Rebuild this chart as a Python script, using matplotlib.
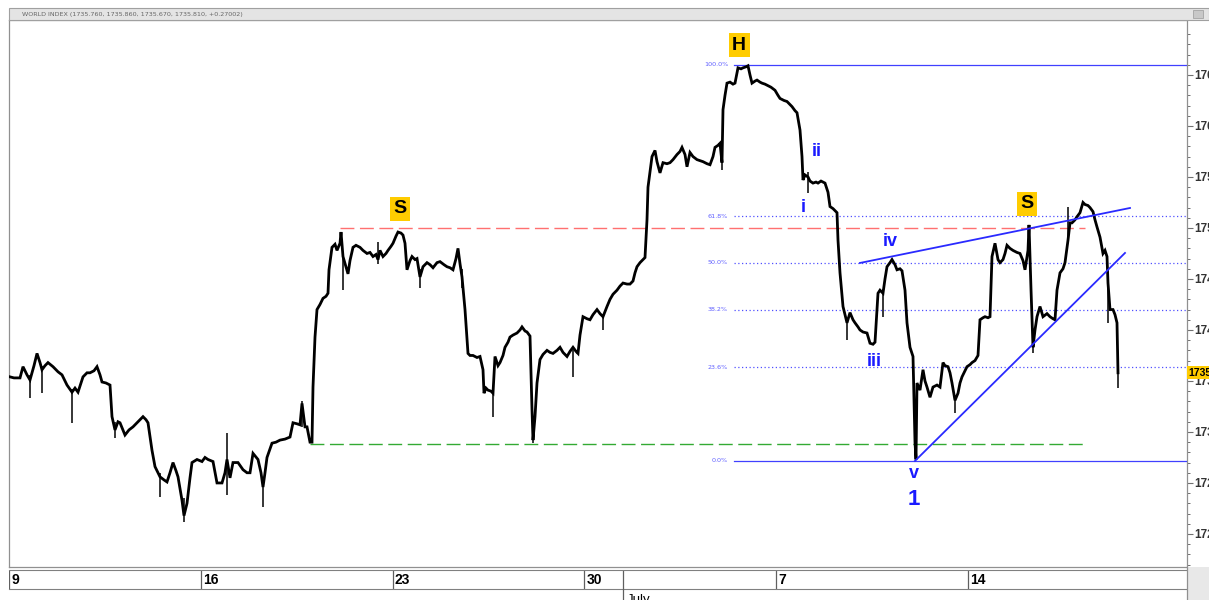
import matplotlib
matplotlib.use('Agg')
import matplotlib.pyplot as plt
import numpy as np
from matplotlib.patches import Rectangle
import matplotlib.transforms as mtransforms

# ---------------- data (bar index = 37.5-minute intraday bars) ----------------
bars_a = [1,5,11,14,18,21,25,28,31,33,36,39,44,49,53,58,63,66,69,74,78,81,85,88,91,93,97,101,103,106,
          109,111,116,120,124,129,134,137,139,143,146,149,151,155,158,161,164,167,169,173,175,178,181,183,188,193,196,199,204,208,
          213,216,218,221,224,229,234,238,241,244,249,252,254,256,258,263,267,271,276,281,284,288,291,293,296,298,301,303]
close_a = [1735.4,1735.3,1735.3,1736.4,1735.6,1735.1,1736.5,1737.7,1736.8,1736.1,1736.5,1736.8,1736.4,1735.9,1735.6,1734.6,1733.9,1734.3,1733.9,1735.4,
           1735.8,1735.8,1736.0,1736.4,1735.6,1734.9,1734.8,1734.6,1731.5,1730.2,1731.0,1730.9,1729.7,1730.2,1730.5,1731.0,1731.5,1731.2,1730.9,1728.2,
           1726.6,1726.0,1725.6,1725.3,1725.1,1726.0,1727.0,1726.2,1725.6,1723.3,1721.8,1723.0,1725.5,1727.0,1727.3,1727.1,1727.5,1727.3,1727.1,1725.0,
           1725.0,1726.0,1727.3,1725.5,1727.0,1727.0,1726.3,1726.0,1726.0,1727.9,1727.3,1726.0,1724.6,1726.0,1727.5,1728.9,1729.0,1729.2,1729.3,1729.5,
           1730.9,1730.8,1730.7,1732.8,1730.5,1730.5,1729.0,1729.0]

bars_b = [304,306,308,311,314,317,319,320,323,326,328,331,332,334,337,339,341,344,347,351,354,358,361,364,367,369,371,374,377,379,
          382,384,387,389,392,394,396,398,401,403,406,408,411,414,418,421,424,428,431,435,438,441,444,447,449,451,453,456,459,461,
          464,468,471,474,475,477,479,482,484,486,489,491,494,496,499,501,504,508,511,513,516,518,521,523,524,526,528,531,534,538,
          541,544,548,551,554,558,561,564,567,569,571,574,578,581,584,588,591,594,598]
close_b = [1734.4,1739.3,1742.0,1742.5,1743.1,1743.3,1743.6,1745.9,1748.1,1748.4,1747.8,1748.5,1749.6,1747.2,1746.2,1745.5,1746.8,1748.1,1748.3,1748.1,
           1747.8,1747.5,1747.6,1747.2,1747.4,1746.9,1747.8,1747.2,1747.5,1747.8,1748.2,1748.5,1749.2,1749.6,1749.5,1749.3,1748.5,1745.9,1746.8,1747.2,
           1746.9,1747.0,1745.2,1746.2,1746.6,1746.4,1746.1,1746.6,1746.7,1746.4,1746.2,1746.1,1745.9,1747.0,1748.0,1746.5,1745.2,1742.0,1737.7,1737.5,
           1737.5,1737.3,1737.4,1736.1,1733.8,1734.3,1734.1,1734.0,1733.8,1737.4,1736.5,1736.8,1737.5,1738.3,1738.8,1739.3,1739.5,1739.7,1740.0,1740.3,
           1739.9,1739.8,1739.4,1732.2,1729.2,1731.5,1734.8,1737.1,1737.6,1738.0,1737.8,1737.7,1738.0,1738.3,1737.8,1737.4,1737.9,1738.3,1737.9,1737.7,
           1739.5,1741.3,1741.1,1741.0,1741.5,1742.0,1741.6,1741.3,1742.3]

bars_c = [601,604,608,611,614,618,621,624,626,628,631,634,636,638,639,641,643,646,648,651,654,658,661,664,668,671,673,676,678,681,
          684,688,691,694,698,701,704,706,709,711,713,714,716,718,721,724,726,729,732,734,737,739,741,743,746,748,751,753,756,758,
          762,766,769,771,775,778,781,783,786,788,791,793,794,796,799,801,804,807,809,812,816,819,821,824,828,829,831,834,836,838,
          841,844,846,849,851,854,858,861,864,866,869,871,874,876,878,881,883,886,888,891,893,896,898,901,904]
close_c = [1743.0,1743.5,1743.9,1744.3,1744.6,1744.5,1744.5,1744.8,1745.6,1746.2,1746.6,1746.9,1747.1,1750.8,1754.0,1755.5,1757.0,1757.6,1756.5,1755.4,
           1756.4,1756.3,1756.4,1756.7,1757.2,1757.5,1757.9,1757.2,1756.0,1757.4,1757.0,1756.7,1756.6,1756.5,1756.3,1756.2,1757.0,1757.9,1758.1,1758.3,
           1756.4,1761.6,1763.0,1764.2,1764.3,1764.1,1764.2,1765.7,1765.6,1765.7,1765.8,1765.9,1765.0,1764.2,1764.4,1764.5,1764.3,1764.2,1764.1,1764.0,
           1763.8,1763.5,1763.0,1762.7,1762.5,1762.4,1762.1,1761.9,1761.5,1761.3,1759.6,1757.0,1754.7,1755.2,1755.0,1754.6,1754.4,1754.5,1754.4,1754.6,
           1754.4,1753.5,1752.1,1751.9,1751.5,1748.8,1745.6,1742.3,1741.5,1740.7,1741.7,1741.0,1740.7,1740.3,1740.0,1739.8,1739.7,1738.7,1738.6,1738.8,
           1743.6,1743.9,1743.6,1745.0,1746.2,1746.6,1746.9,1746.4,1745.9,1746.0,1745.8,1743.9,1740.7,1738.3,1737.4]

bars_d = [906,907,908,911,914,916,918,921,924,928,931,934,936,939,941,943,946,949,951,953,956,958,961,963,966,969,971,974,976,979,
          981,983,986,989,991,994,996,998,1001,1004,1008,1011,1014,1016,1019,1020,1022,1024,1026,1028,1031,1034,1038,1041,1044,1046,1048,1051,1054,1056,
          1059,1061,1063,1066,1068,1071,1074,1076,1079,1081,1084,1086,1088,1091,1094,1096,1098,1099,1101,1104,1106,1108,1109]
close_d = [1729.0,1727.3,1734.8,1734.1,1736.1,1735.0,1734.4,1733.4,1734.4,1734.6,1734.4,1736.8,1736.5,1736.4,1735.8,1734.8,1733.1,1733.8,1734.8,1735.4,
           1736.0,1736.4,1736.6,1736.8,1737.0,1737.5,1741.0,1741.2,1741.3,1741.2,1741.3,1747.2,1748.5,1746.9,1746.6,1746.9,1747.5,1748.3,1748.0,1747.8,
           1747.6,1747.5,1746.8,1745.9,1747.8,1750.3,1744.0,1738.3,1740.0,1741.3,1742.3,1741.3,1741.6,1741.3,1741.1,1741.0,1743.9,1745.6,1746.0,1746.6,
           1748.8,1750.5,1750.5,1750.8,1751.1,1751.5,1752.5,1752.3,1752.2,1752.0,1751.6,1750.8,1750.1,1749.1,1747.5,1747.8,1747.2,1744.6,1742.0,1742.0,
           1741.5,1740.7,1735.8]

# intraday wicks: bar, low, high
wick_bar  = [21,33,63,106,151,175,218,254,293,334,369,411,453,484,524,564,594,713,799,838,874,946,1024,1059,1099,1109]
wick_low  = [1733.3,1733.8,1730.9,1729.4,1723.6,1721.2,1723.8,1722.6,1730.5,1743.9,1746.5,1744.1,1744.1,1731.5,1728.9,1735.4,1740.0,1755.7,1753.4,1739.0,1741.3,1731.9,1737.7,1748.5,1740.7,1734.3]
wick_high = [1735.6,1736.5,1734.2,1731.0,1726.0,1723.5,1729.9,1725.5,1733.0,1747.5,1748.6,1746.0,1746.0,1734.0,1731.0,1738.0,1741.5,1757.0,1755.5,1741.0,1744.0,1733.5,1739.0,1752.1,1745.0,1736.0]

fib_high, fib_low = 1766.0, 1727.16
fib_ratios = [0.0, 0.236, 0.382, 0.5, 0.618, 1.0]
fib_labels = ["0.0%", "23.6%", "38.2%", "50.0%", "61.8%", "100.0%"]
fib_start = 725

resist_level, resist_from, resist_to = 1750.0, 331, 1076
support_level, support_from, support_to = 1728.8, 301, 1076

upper_tl_x, upper_tl_y = [851, 1121], [1746.57, 1751.96]
lower_tl_x, lower_tl_y = [906, 1116], [1727.16, 1747.55]

yellow_labels = [("H", 730, 1767.9), ("S", 391, 1751.9), ("S", 1018, 1752.35)]
wave_labels = [("i", 794, 1752.0, 13), ("ii", 808, 1757.5, 13), ("iii", 865, 1736.9, 13),
               ("iv", 881, 1748.7, 13), ("v", 905, 1725.9, 13), ("1", 905, 1723.4, 16)]

day_ticks = [0, 5, 10, 15, 20, 25]
day_tick_labels = ["9", "16", "23", "30", "7", "14"]
month_day, month_label = 16, "July"
bars_per_day = 38.36

price_ticks = [1720, 1725, 1730, 1735, 1740, 1745, 1750, 1755, 1760, 1765]
last_price = 1735.81
header = "WORLD INDEX (1735.760, 1735.860, 1735.670, 1735.810, +0.27002)"

# ---------------- figure ----------------
W, H = 1209, 600
fig = plt.figure(figsize=(W / 100, H / 100), dpi=100)
fig.patch.set_facecolor('white')

def rect(x0, y0, x1, y1):
    return [x0 / W, 1 - y1 / H, (x1 - x0) / W, (y1 - y0) / H]

NARROW = ['Liberation Sans Narrow', 'Liberation Sans']

# header bar
fig.patches.append(Rectangle((9 / W, 1 - 20 / H), 1 - 9 / W, 12 / H, transform=fig.transFigure,
                             facecolor='#e4e4e4', edgecolor='#a0a0a0', lw=0.8))
fig.text(22 / W, 1 - 14.5 / H, header, fontsize=4.6, color='#666666', va='center', ha='left')
fig.patches.append(Rectangle((1193 / W, 1 - 18 / H), 10 / W, 8 / H, transform=fig.transFigure,
                             facecolor='#c8c8c8', edgecolor='#999999', lw=0.5))

# lower right grey block
fig.patches.append(Rectangle((1187 / W, 0), 22 / W, 33 / H, transform=fig.transFigure,
                             facecolor='#e8e8e8', edgecolor='none'))

ax = fig.add_axes(rect(9, 20, 1187, 567))
ax.set_xlim(0, 1178)
ax.set_ylim(1716.76, 1770.39)

bars = bars_a + bars_b + bars_c + bars_d
close = close_a + close_b + close_c + close_d
ax.vlines(wick_bar, wick_low, wick_high, color='black', lw=1.1, zorder=4)
ax.plot(bars, close, color='black', lw=2.0, solid_joinstyle='miter', zorder=5)

# fib lines
for r, lab in zip(fib_ratios, fib_labels):
    lvl = fib_low + r * (fib_high - fib_low)
    if r in (0.0, 1.0):
        ax.plot([fib_start, 1178], [lvl, lvl], color='#4040ff', lw=0.9, zorder=3)
    else:
        ax.plot([fib_start, 1178], [lvl, lvl], color='#5050ff', lw=0.9, ls=(0, (1, 2)), zorder=3)
    ax.text(fib_start - 6, lvl, lab, fontsize=4.6, color='#6060ff', ha='right', va='center')

ax.plot([resist_from, resist_to], [resist_level] * 2, color='#ff7070', lw=1.0, ls=(0, (10, 4)), zorder=2)
ax.plot([support_from, support_to], [support_level] * 2, color='#33aa33', lw=1.0, ls=(0, (10, 4)), zorder=2)

ax.plot(upper_tl_x, upper_tl_y, color='#2a2aff', lw=1.3, zorder=6)
ax.plot(lower_tl_x, lower_tl_y, color='#2a2aff', lw=1.3, zorder=6)

for t, x, y in yellow_labels:
    ax.text(x, y, t, fontsize=14, fontweight='bold', color='black', ha='center', va='center',
            family='Liberation Sans',
            bbox=dict(boxstyle='square,pad=0.18', facecolor='#ffcc00', edgecolor='none'), zorder=8)
for t, x, y, fs in wave_labels:
    ax.text(x, y, t, fontsize=fs, fontweight='bold', color='#1a1aff', ha='center', va='center',
            family='Liberation Sans', zorder=8)

for s in ['left', 'top', 'bottom', 'right']:
    ax.spines[s].set_color('#909090')
    ax.spines[s].set_linewidth(0.9)
ax.set_xticks([])
ax.yaxis.tick_right()
ax.set_yticks(price_ticks)
ax.set_yticklabels([str(p) for p in price_ticks], fontsize=8.5, fontweight='bold', color='#333333',
                   family=NARROW)
ax.set_yticks(np.arange(1717, 1770, 1), minor=True)
ax.tick_params(axis='y', which='major', length=4, width=0.8, color='#707070', pad=1.5)
ax.tick_params(axis='y', which='minor', length=2.5, width=0.7, color='#707070')

# current price tag
trans = mtransforms.blended_transform_factory(ax.transAxes, ax.transData)
ax.text(1.0012, last_price, f"{last_price:.2f}", transform=trans, fontsize=7.5, fontweight='bold',
        ha='left', va='center', family=NARROW, color='black', clip_on=False,
        bbox=dict(boxstyle='square,pad=0.15', facecolor='#ffcc00', edgecolor='none'), zorder=10)

# date strip
dax = fig.add_axes(rect(9, 570, 1187, 589))
dax.set_xlim(0, 1178)
dax.set_ylim(0, 1)
dax.set_xticks([]); dax.set_yticks([])
for s in ['left', 'right']:
    dax.spines[s].set_visible(False)
for s in ['top', 'bottom']:
    dax.spines[s].set_color('#808080')
for d, lab in zip(day_ticks, day_tick_labels):
    xb = d * bars_per_day
    dax.axvline(xb, color='#606060', lw=0.9)
    dax.text(xb + 2, 0.45, lab, fontsize=10, fontweight='bold', ha='left', va='center', family=NARROW)
dax.axvline(month_day * bars_per_day, color='#606060', lw=0.9)

max_ = fig.add_axes(rect(9, 589, 1187, 600))
max_.set_xlim(0, 1178)
max_.set_ylim(0, 1)
max_.axis('off')
max_.axvline(month_day * bars_per_day, color='#606060', lw=0.9)
max_.text(month_day * bars_per_day + 4, 0.0, month_label, fontsize=9.5, ha='left', va='center',
          family=NARROW, clip_on=False)

# right axis line extending to bottom
fig.add_artist(plt.Line2D([1187 / W, 1187 / W], [0, 1 - 567 / H], color='#909090', lw=0.9))

fig.savefig('out.png', dpi=100)
